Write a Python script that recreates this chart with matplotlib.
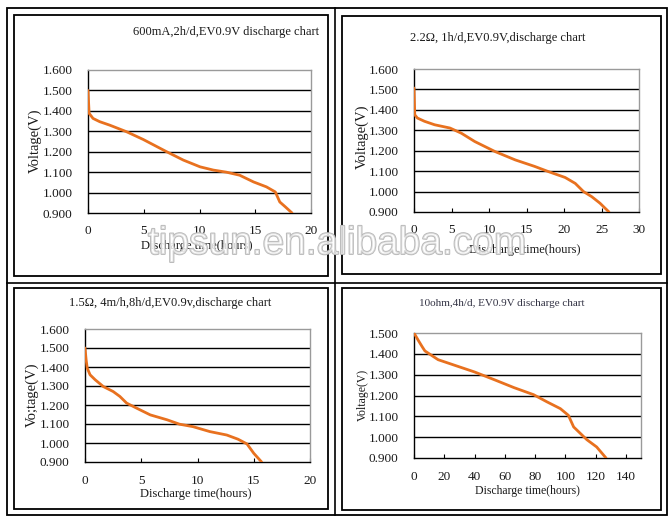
import matplotlib
matplotlib.use("Agg")
import matplotlib.pyplot as plt
from matplotlib.patches import Rectangle
from matplotlib.lines import Line2D
import matplotlib.patheffects as pe

W, H = 671, 519

# ---------------- data ----------------
p1_t = [0, 0.1, 0.45, 1.05, 1.95, 3.45, 4.95, 7.05, 8.55, 10.05, 11.25, 12.4, 13.6, 14.85, 16.0, 16.8, 17.2, 17.7, 18.3]
p1_v = [1.50, 1.388, 1.363, 1.347, 1.330, 1.298, 1.260, 1.200, 1.159, 1.126, 1.110, 1.100, 1.085, 1.052, 1.028, 1.003, 0.954, 0.930, 0.900]

p2_t = [0, 0.1, 0.45, 1.4, 2.75, 4.8, 6.3, 8.1, 10.8, 13.5, 16.1, 17.9, 20.15, 21.5, 22.6, 23.7, 24.8, 26.0]
p2_v = [1.507, 1.376, 1.360, 1.344, 1.327, 1.311, 1.286, 1.245, 1.196, 1.155, 1.123, 1.098, 1.069, 1.040, 1.000, 0.975, 0.943, 0.900]

p3_t = [0, 0.1, 0.2, 0.45, 0.9, 1.63, 2.5, 3.1, 3.7, 4.6, 5.8, 7.3, 8.4, 9.6, 11.1, 12.6, 13.6, 14.4, 15.0, 15.7]
p3_v = [1.50, 1.438, 1.394, 1.359, 1.333, 1.297, 1.271, 1.245, 1.210, 1.183, 1.148, 1.122, 1.099, 1.086, 1.060, 1.042, 1.020, 0.995, 0.946, 0.900]

p4_t = [0, 2.8, 5.5, 7.2, 10.5, 15.9, 26.9, 40, 53, 66, 79, 88, 96.7, 102, 105.5, 114.2, 120.7, 126.9]
p4_v = [1.50, 1.465, 1.433, 1.414, 1.398, 1.372, 1.345, 1.313, 1.276, 1.238, 1.204, 1.169, 1.137, 1.105, 1.049, 0.988, 0.953, 0.900]

yticks_a = [0.9, 1.0, 1.1, 1.2, 1.3, 1.4, 1.5, 1.6]
yticks_b = [0.9, 1.0, 1.1, 1.2, 1.3, 1.4, 1.5]
xticks_20 = [0, 5, 10, 15, 20]
xticks_30 = [0, 5, 10, 15, 20, 25, 30]
xticks_140 = [0, 20, 40, 60, 80, 100, 120, 140]

titles = ["600mA,2h/d,EV0.9V discharge chart",
          "2.2\u03a9, 1h/d,EV0.9V,discharge chart",
          "1.5\u03a9, 4m/h,8h/d,EV0.9v,discharge chart",
          "10ohm,4h/d, EV0.9V discharge chart"]
ylabels = ["Voltage(V)", "Voltage(V)", "Vo;tage(V)", "Voltage(V)"]
xlabel = "Discharge time(hours)"

LINE = "#E8711F"
SERIF = "Liberation Serif"
TXT = "#1a1a1a"

fig = plt.figure(figsize=(W / 100, H / 100), dpi=100)
fig.patch.set_facecolor("white")


def fx(x):
    return x / W


def fy(y):
    return 1 - y / H


def rect(x0, y0, x1, y1, color="black", lw=1.2):
    fig.add_artist(Rectangle((fx(x0), fy(y1)), fx(x1) - fx(x0), fy(y0) - fy(y1),
                             transform=fig.transFigure, fill=False,
                             edgecolor=color, linewidth=lw))


def hline(x0, x1, y, color="black", lw=1.2):
    fig.add_artist(Line2D([fx(x0), fx(x1)], [fy(y), fy(y)], transform=fig.transFigure,
                          color=color, linewidth=lw))


def vline(x, y0, y1, color="black", lw=1.2):
    fig.add_artist(Line2D([fx(x), fx(x)], [fy(y0), fy(y1)], transform=fig.transFigure,
                          color=color, linewidth=lw))


# outer table frame and dividers
rect(7, 8, 667, 515, lw=1.3)
vline(335, 8, 515)
hline(7, 667, 283)
# inner chart-area frames
rect(14, 15, 328, 276, lw=1.3)
rect(342, 16, 661, 274, lw=1.3)
rect(14, 288, 328, 509, lw=1.3)
rect(342, 288, 661, 510, lw=1.3)


def make_axes(box, t, v, xlim, xticks, ylim, yticks, fs):
    x0, y0, x1, y1 = box
    ax = fig.add_axes([fx(x0), fy(y1), fx(x1) - fx(x0), fy(y0) - fy(y1)])
    ax.set_xlim(*xlim)
    ax.set_ylim(*ylim)
    ax.set_xticks(xticks)
    ax.set_yticks(yticks)
    ax.set_xticklabels([str(x) for x in xticks], fontfamily=SERIF, fontsize=fs, color=TXT)
    ax.set_yticklabels(["%.3f" % y for y in yticks], fontfamily=SERIF, fontsize=fs, color=TXT)
    for y in yticks[1:-1]:
        ax.axhline(y, color="black", linewidth=1.0, zorder=1)
    for s in ["top", "right"]:
        ax.spines[s].set_color("#9a9a9a")
        ax.spines[s].set_linewidth(1.0)
    for s in ["left", "bottom"]:
        ax.spines[s].set_color("black")
        ax.spines[s].set_linewidth(1.0)
    ax.tick_params(axis="x", direction="in", length=3, width=0.8, pad=9)
    ax.tick_params(axis="y", length=0, pad=11)
    ax.plot(t, v, color=LINE, linewidth=2.0, zorder=3, solid_capstyle="round")
    return ax


make_axes((88, 70, 311, 213), p1_t, p1_v, (0, 20), xticks_20, (0.9, 1.6), yticks_a, 9.5)
make_axes((414, 69, 639, 212), p2_t, p2_v, (0, 30), xticks_30, (0.9, 1.6), yticks_a, 9.5)
make_axes((85, 329, 310, 462), p3_t, p3_v, (0, 20), xticks_20, (0.9, 1.6), yticks_a, 9.5)
make_axes((414, 333, 641, 458), p4_t, p4_v, (0, 150), xticks_140, (0.9, 1.5), yticks_b, 9.5)

# titles
fig.text(fx(226), fy(32), titles[0], ha="center", va="center", fontfamily=SERIF, fontsize=9, color=TXT)
fig.text(fx(498), fy(38), titles[1], ha="center", va="center", fontfamily=SERIF, fontsize=9, color=TXT)
fig.text(fx(170), fy(303), titles[2], ha="center", va="center", fontfamily=SERIF, fontsize=9, color=TXT)
fig.text(fx(502), fy(303), titles[3], ha="center", va="center", fontfamily=SERIF, fontsize=8, color="#333344")

# x labels
fig.text(fx(197), fy(246), xlabel, ha="center", va="center", fontfamily=SERIF, fontsize=9, color=TXT)
fig.text(fx(525), fy(250), xlabel, ha="center", va="center", fontfamily=SERIF, fontsize=9, color=TXT)
fig.text(fx(196), fy(494), xlabel, ha="center", va="center", fontfamily=SERIF, fontsize=9, color=TXT)
fig.text(fx(527), fy(491), xlabel, ha="center", va="center", fontfamily=SERIF, fontsize=8.5, color=TXT)

# y labels
fig.text(fx(35), fy(141), ylabels[0], ha="center", va="center", rotation=90, fontfamily=SERIF, fontsize=10.5, color=TXT)
fig.text(fx(362), fy(137), ylabels[1], ha="center", va="center", rotation=90, fontfamily=SERIF, fontsize=10.5, color=TXT)
fig.text(fx(32), fy(395), ylabels[2], ha="center", va="center", rotation=90, fontfamily=SERIF, fontsize=10.5, color=TXT)
fig.text(fx(363), fy(395), ylabels[3], ha="center", va="center", rotation=90, fontfamily=SERIF, fontsize=8.5, color=TXT)

# watermark
fig.text(fx(148), fy(244), "tipsun.en.alibaba.com", ha="left", va="center",
         fontfamily="Liberation Sans", fontsize=28, color=(1, 1, 1, 0.55), zorder=10,
         path_effects=[pe.withStroke(linewidth=1.3, foreground="#b8b8b8")])

fig.savefig("out.png", dpi=100, facecolor="white")
